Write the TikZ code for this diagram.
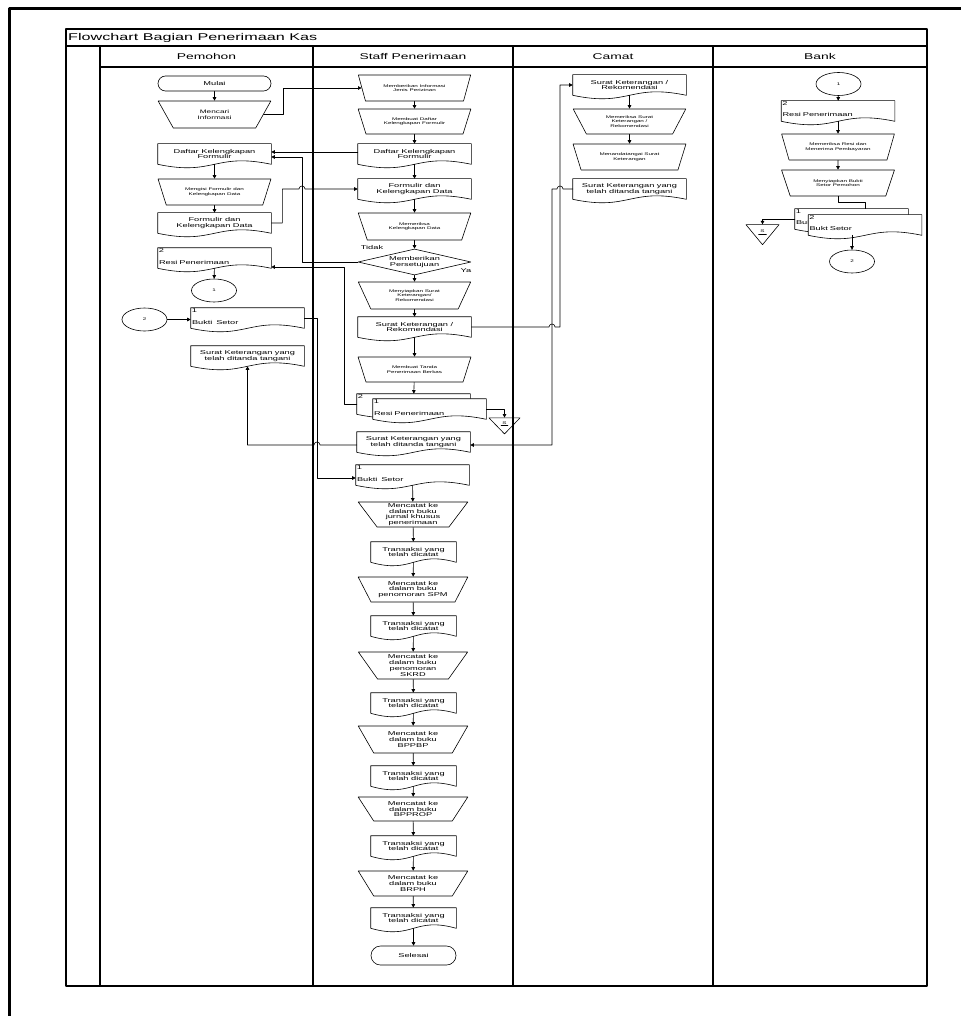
\documentclass[tikz,border=0pt]{standalone}
\usepackage{fontspec}
\setmainfont{Liberation Sans}[FakeStretch=1.65]
\usetikzlibrary{arrows.meta,calc,shapes.geometric,shapes.misc}

% flowchart document symbol (rectangle with a wavy lower edge)
\makeatletter
\pgfdeclareshape{flowdoc}{
  \inheritsavedanchors[from=rectangle]
  \inheritanchorborder[from=rectangle]
  \inheritanchor[from=rectangle]{center}
  \inheritanchor[from=rectangle]{north}
  \inheritanchor[from=rectangle]{south}
  \inheritanchor[from=rectangle]{east}
  \inheritanchor[from=rectangle]{west}
  \inheritanchor[from=rectangle]{north east}
  \inheritanchor[from=rectangle]{north west}
  \inheritanchor[from=rectangle]{south east}
  \inheritanchor[from=rectangle]{south west}
  \backgroundpath{
    \southwest \edef\fdocxa{\the\pgf@x}\edef\fdocya{\the\pgf@y}
    \northeast \edef\fdocxb{\the\pgf@x}\edef\fdocyb{\the\pgf@y}
    \pgfmathsetlengthmacro\fdocxc{(\fdocxa+\fdocxb)/2}
    \pgfmathsetlengthmacro\fdocup{\fdocya+12pt}
    \pgfmathsetlengthmacro\fdocdn{\fdocya-12pt}
    \pgfpathmoveto{\pgfqpoint{\fdocxa}{\fdocya}}
    \pgfpathlineto{\pgfqpoint{\fdocxa}{\fdocyb}}
    \pgfpathlineto{\pgfqpoint{\fdocxb}{\fdocyb}}
    \pgfpathlineto{\pgfqpoint{\fdocxb}{\fdocya}}
    \pgfpathcurveto{\pgfqpoint{\fdocxc}{\fdocup}}{\pgfqpoint{\fdocxc}{\fdocdn}}{\pgfqpoint{\fdocxa}{\fdocya}}
    \pgfpathclose
  }
}
\makeatother

\begin{document}
\begin{tikzpicture}[x=1pt,y=-1pt,line cap=round,line join=round]
  % ----- styles -----
  \tikzset{
    every node/.append style={font=\fontsize{5.6}{5.9}\selectfont},
    lane/.style={draw=black,line width=1.1pt},
    term/.style={rounded rectangle,draw,line width=0.6pt,minimum width=113pt,minimum height=15pt,inner sep=0pt},
    manop/.style={trapezium,trapezium stretches=true,shape border rotate=180,
      trapezium left angle=58,trapezium right angle=58,draw,line width=0.6pt,
      minimum width=113pt,minimum height=26pt,inner sep=0pt,align=center,
      font=\fontsize{3.8}{4.4}\selectfont},
    catat/.style={manop,minimum width=110pt,minimum height=25pt,font=\fontsize{5.6}{5.9}\selectfont},
    doc/.style={flowdoc,draw,fill=white,line width=0.6pt,minimum width=113pt,minimum height=20pt,inner sep=1pt,align=center},
    trans/.style={doc,minimum width=85pt},
    numdoc/.style={doc,align=left,text width=111pt,text height=13pt,text depth=1pt},
    num/.style={anchor=north west,inner sep=1pt},
    decide/.style={diamond,aspect=4.35,draw,line width=0.6pt,minimum width=113pt,minimum height=26pt,inner sep=0pt,align=center},
    conn/.style={ellipse,draw,line width=0.6pt,minimum width=45pt,minimum height=23pt,inner sep=0pt,font=\fontsize{3.8}{4.4}\selectfont},
    store/.style={isosceles triangle,isosceles triangle stretches,shape border rotate=-90,draw,line width=0.6pt,
      minimum width=31pt,minimum height=16pt,inner sep=0pt,font=\fontsize{3.8}{4.4}\selectfont},
    arr/.style={draw=black,line width=0.6pt,-{Triangle[length=3.5pt,width=3.5pt]}}
  }

  \useasboundingbox (0,0) rectangle (960,1016);

  % ----- frame & swimlanes -----
  \draw[line width=3pt] (9,1030) -- (9,9) -- (975,9);
  \draw[lane] (66,29) rectangle (927,986);
  \draw[lane] (66,46) -- (927,46);
  \draw[lane] (100,67) -- (927,67);
  \foreach \x in {100,313,513,713}{
    \draw[lane] (\x,46) -- (\x,986);
  }
  \node[anchor=west,inner sep=1pt,font=\fontsize{9.8}{11}\selectfont] (title) at (67,37.5) {Flowchart Bagian Penerimaan Kas};
  \node[font=\fontsize{8.4}{10}\selectfont] (hPemohon) at (206.5,56.5) {Pemohon};
  \node[font=\fontsize{8.4}{10}\selectfont] (hStaff) at (413,56.5) {Staff Penerimaan};
  \node[font=\fontsize{8.4}{10}\selectfont] (hCamat) at (613,56.5) {Camat};
  \node[font=\fontsize{8.4}{10}\selectfont] (hBank) at (820,56.5) {Bank};

  % ----- Pemohon -----
  \node[term] (mulai) at (214.5,83.5) {Mulai};
  \node[manop,minimum height=27pt,font=\fontsize{5}{6.3}\selectfont] (mencari) at (214.5,114.5) {Mencari\\Informasi};
  \node[doc] (daftarP) at (214.5,154) {Daftar Kelengkapan\\Formulir};
  \node[manop] (mengisi) at (214.5,192) {Mengisi Formulir dan\\Kelengkapan Data};
  \node[doc] (formP) at (214.5,223) {Formulir dan\\Kelengkapan Data};
  \node[numdoc,label={[num]north west:2}] (resiP) at (214.5,258) {Resi Penerimaan};
  \node[conn] (c1P) at (214,290.5) {1};
  \node[conn] (c2P) at (144.5,319.5) {2};
  \node[numdoc,label={[num]north west:1}] (buktiP) at (247.5,318) {Bukti~ Setor};
  \node[doc] (suratP) at (247.5,356) {Surat Keterangan yang\\telah ditanda tangani};

  % ----- Staff Penerimaan -----
  \node[manop] (info) at (414.5,88) {Memberikan Informasi\\Jenis Perizinan};
  \node[manop,minimum height=25pt] (buatDaftar) at (414.5,121.5) {Membuat Daftar\\Kelengkapan Formulir};
  \node[doc] (daftarS) at (414.5,154) {Daftar Kelengkapan\\Formulir};
  \node[doc] (formS) at (414.5,189) {Formulir dan\\Kelengkapan Data};
  \node[manop,minimum height=27pt] (periksa) at (414.5,226.5) {Memeriksa\\Kelengkapan Data};
  \node[decide] (setuju) at (414.5,262) {Memberikan\\Persetujuan};
  \node (tidak) at (372,247) {Tidak};
  \node (ya) at (466,271) {Ya};
  \node[manop,minimum height=27pt] (siapkanS) at (414.5,295.5) {Menyiapkan Surat\\Keterangan/\\Rekomendasi};
  \node[doc] (rekS) at (414.5,327) {Surat Keterangan /\\Rekomendasi};
  \node[manop,minimum height=25pt] (tanda) at (414.5,369.5) {Membuat Tanda\\Penerimaan Berkas};
  \node[numdoc,label={[num]north west:2}] (resiB) at (413.5,404) {};
  \node[numdoc,label={[num]north west:1}] (resiF) at (429.5,409) {Resi Penerimaan};
  \node[store] (sS) at (504.5,424) {\raisebox{2pt}{S}};
  \draw[line width=0.4pt] ([xshift=-3.5pt,yshift=-1.5pt]sS.center) -- ++(7,0);
  \node[doc] (suratS) at (413.5,442) {Surat Keterangan yang\\telah ditanda tangani};
  \node[numdoc,label={[num]north west:1}] (buktiS) at (412.5,475) {Bukti~ Setor};
  \node[catat] (cat1) at (413,514.5) {Mencatat ke\\dalam buku\\jurnal khusus\\penerimaan};
  \node[trans] (tr1) at (413.5,552) {Transaksi yang\\telah dicatat};
  \node[catat] (cat2) at (413,589.5) {Mencatat ke\\dalam buku\\penomoran SPM};
  \node[trans] (tr2) at (413.5,626) {Transaksi yang\\telah dicatat};
  \node[catat,minimum height=27pt] (cat3) at (413,665.5) {Mencatat ke\\dalam buku\\penomoran\\SKRD};
  \node[trans] (tr3) at (413.5,703) {Transaksi yang\\telah dicatat};
  \node[catat,minimum height=27pt] (cat4) at (413,739.5) {Mencatat ke\\dalam buku\\BPPBP};
  \node[trans] (tr4) at (413.5,776) {Transaksi yang\\telah dicatat};
  \node[catat,minimum height=24pt] (cat5) at (413,809) {Mencatat ke\\dalam buku\\BPPROP};
  \node[trans] (tr5) at (413.5,846) {Transaksi yang\\telah dicatat};
  \node[catat] (cat6) at (413,883.5) {Mencatat ke\\dalam buku\\BRPH};
  \node[trans] (tr6) at (413.5,918) {Transaksi yang\\telah dicatat};
  \node[term,minimum width=85pt,minimum height=19pt] (selesai) at (413.5,955.5) {Selesai};

  % ----- Camat -----
  \node[doc] (skC) at (629.5,85) {Surat Keterangan /\\Rekomendasi};
  \node[manop,minimum height=25pt] (periksaC) at (629.5,121.5) {Memeriksa Surat\\Keterangan /\\Rekomendasi};
  \node[manop] (ttdCt) at (629.5,157) {Menandatangai Surat\\Keterangan};
  \node[doc] (ttdC) at (629.5,189) {Surat Keterangan yang\\telah ditanda tangani};

  % ----- Bank -----
  \node[conn] (c1B) at (838.5,84) {1};
  \node[numdoc,label={[num]north west:2}] (resiBk) at (838,111) {Resi Penerimaan};
  \node[manop] (periksaB) at (838,147) {Memeriksa Resi dan\\Menerima Pembayaran};
  \node[manop] (siapB) at (838,183) {Menyiapkan Bukti\\Setor Pemohon};
  \node[numdoc,label={[num]north west:1}] (bb1) at (851.5,219) {Bukti Setor};
  \node[numdoc,label={[num]north west:2}] (bb2) at (865,225) {Bukt Setor};
  \node[store,minimum width=33pt,minimum height=20pt] (sB) at (762.5,232) {\raisebox{2pt}{S}};
  \draw[line width=0.4pt] ([xshift=-4pt,yshift=-2pt]sB.center) -- ++(8,0);
  \node[conn] (c2B) at (852,261.5) {2};

  % ----- connectors -----
  \coordinate (tdk) at (302,0);
  \coordinate (vBkt) at (317,0);
  \coordinate (vTtd) at (552,0);
  \coordinate (vRek) at (560,0);

  \foreach \a/\b in {mulai/mencari,daftarP/mengisi,mengisi/formP,resiP/c1P,
    info/buatDaftar,buatDaftar/daftarS,daftarS/formS,formS/periksa,periksa/setuju,
    setuju/siapkanS,siapkanS/rekS,rekS/tanda,tanda/resiB,
    buktiS/cat1,cat1/tr1,tr1/cat2,cat2/tr2,tr2/cat3,cat3/tr3,tr3/cat4,cat4/tr4,
    tr4/cat5,cat5/tr5,tr5/cat6,cat6/tr6,tr6/selesai,
    skC/periksaC,periksaC/ttdCt,c1B/resiBk,resiBk/periksaB,periksaB/siapB}{
    \draw[arr] (\a) -- (\b);
  }

  \draw[arr] (mencari.east) -- ++(20,0) |- (info.west);
  \draw[arr] ([yshift=2pt]daftarS.west) -- ([yshift=2pt]daftarP.east);
  \draw[arr] (formP.east) -- ++(11,0) |- ([xshift=-3pt]formS.west -| tdk)
    arc[start angle=180,end angle=360,radius=3] -- (formS.west);
  \draw[arr] (setuju.west) -| ([yshift=-3pt]daftarP.east -| tdk) -- ([yshift=-3pt]daftarP.east);
  \draw[arr] (resiB.west) -- ++(-12,0) |- ([yshift=-9pt]resiP.east);
  \draw[arr] (c2P.east) -- (c2P.east -| buktiP.west);
  \draw[arr] (buktiP.east) -| ([yshift=-3pt]buktiS.west -| vBkt) -- ([yshift=-3pt]buktiS.west);
  \draw[arr] ([yshift=-3pt]suratS.west) -- ([xshift=3pt,yshift=-3pt]suratS.west -| vBkt)
    arc[start angle=0,end angle=-180,radius=3] -| (suratP.south);
  \draw[arr] (rekS.east) -- ([xshift=-3pt]rekS.east -| vTtd)
    arc[start angle=180,end angle=360,radius=3] -- (rekS.east -| vRek) |- (skC.west);
  \draw[arr] (ttdC.west) -- ([xshift=3pt]ttdC.west -| vRek)
    arc[start angle=0,end angle=-180,radius=3] -- (ttdC.west -| vTtd) |- ([yshift=-3pt]suratS.east);
  \draw[arr] (resiF.east) -| (sS.lower side);
  \draw[line width=0.6pt] (siapB.south) -- ++(0,6) -| ([xshift=13.5pt]bb1.north);
  \draw[arr] (bb1.west) -| (sB.lower side);
  \draw[arr] (c2B |- bb2.south) -- (c2B);

\end{tikzpicture}
\end{document}
